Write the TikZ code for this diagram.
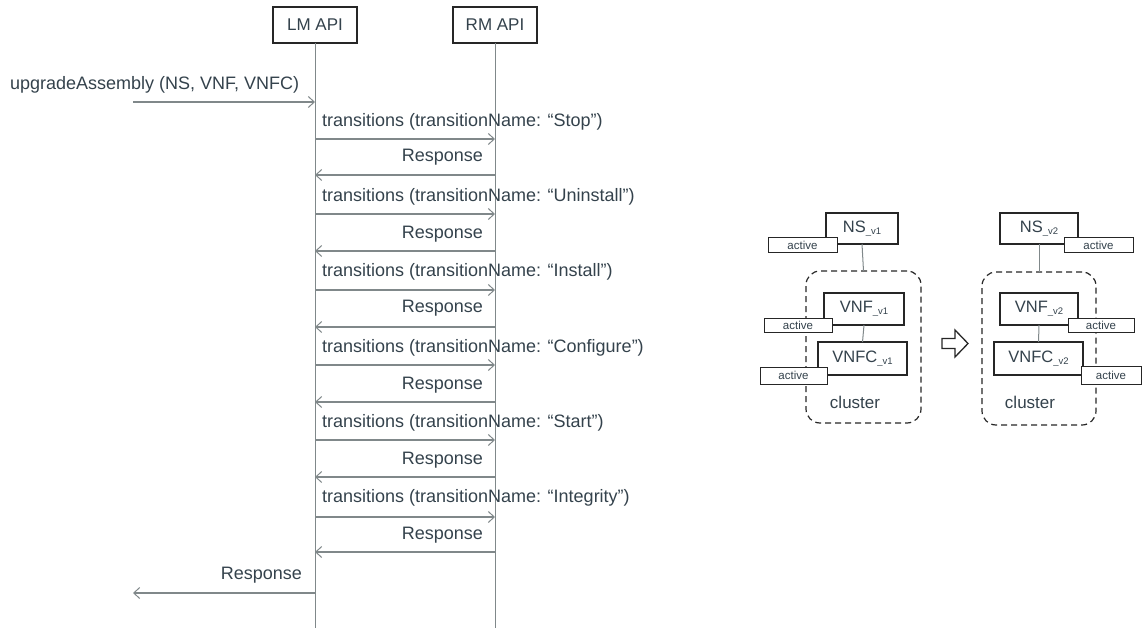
\documentclass[tikz,border=0pt]{standalone}
\usepackage{fontspec}
\setmainfont{Liberation Sans}
\usetikzlibrary{arrows.meta}
\definecolor{ink}{RGB}{52,66,76}
\definecolor{wire}{RGB}{128,136,138}
\definecolor{frame}{RGB}{38,38,38}
% small version suffix such as _v1
\newcommand\vsub[1]{\raisebox{-1.5pt}{\fontsize{9.5}{9.5}\selectfont\_#1}}

\begin{document}
\begin{tikzpicture}[x=1pt,y=-1pt,
  every node/.style={inner sep=0pt,outer sep=0pt,text=ink},
  headbox/.style={draw=frame,line width=1.4pt,fill=white,minimum width=84pt,minimum height=36pt,font=\fontsize{17}{20}\selectfont},
  lifeline/.style={draw=wire,line width=0.9pt},
  msg/.style={draw=wire,line width=1.1pt,-{Straight Barb[length=6pt,width=11pt,line width=1pt]}},
  lbl/.style={font=\fontsize{18}{20}\selectfont},
  compbox/.style={draw=frame,line width=1.4pt,fill=white,font=\fontsize{16.5}{18}\selectfont},
  tagbox/.style={draw=frame,line width=1pt,fill=white,font=\fontsize{11.5}{12}\selectfont},
  clusterbox/.style={draw=frame,dashed,dash pattern=on 6pt off 4pt,line width=1.2pt,rounded corners=14pt},
  link/.style={draw=wire,line width=1pt}
]
\useasboundingbox (0,0) rectangle (1142,628);

% ---------------- sequence chart ----------------
\node[headbox] (lm) at (315,25) {LM API};
\node[headbox] (rm) at (495,25) {RM API};
\coordinate (lmend) at (315,628);
\coordinate (rmend) at (495,628);
\draw[lifeline] (lm.south) -- (lmend);
\draw[lifeline] (rm.south) -- (rmend);

% incoming call
\coordinate (caller) at (133,102);
\coordinate (lm0) at (315,102);
\draw[msg] (caller) -- (lm0);
\node[lbl,anchor=west] (call) at (10,85) {upgradeAssembly (NS, VNF, VNFC)};

% transition requests
\foreach \ty/\ay/\tn [count=\i] in
  {122/139/Stop, 197/214/Uninstall, 272/290/Install,
   348/365/Configure, 423/440/Start, 498/517/Integrity}{
  \coordinate (lmq\i) at (315,\ay);
  \coordinate (rmq\i) at (495,\ay);
  \draw[msg] (lmq\i) -- (rmq\i);
  \node[lbl,anchor=west] (req\i) at (322,\ty) {transitions (transitionName: ``\tn'')};
}
% and their responses
\foreach \ry/\ay [count=\i] in
  {157/175, 234/251, 308/327, 385/402, 460/477, 535/552}{
  \coordinate (rma\i) at (495,\ay);
  \coordinate (lma\i) at (315,\ay);
  \draw[msg] (rma\i) -- (lma\i);
  \node[lbl,anchor=east] (ans\i) at (483,\ry) {Response};
}

% final reply
\coordinate (lmz) at (315,593);
\coordinate (replyend) at (133,593);
\draw[msg] (lmz) -- (replyend);
\node[lbl,anchor=east] (reply) at (302,575) {Response};

% ---------------- assembly before the upgrade ----------------
\node[clusterbox,minimum width=115pt,minimum height=152pt] (cl1) at (863.5,347) {};
\node[lbl,font=\fontsize{17}{20}\selectfont] (cl1t) at (855,402) {cluster};
\node[compbox,minimum width=72pt,minimum height=31pt] (ns1) at (862,228.5) {NS\vsub{v1}};
\node[compbox,minimum width=80pt,minimum height=32pt] (vnf1) at (864,309) {VNF\vsub{v1}};
\node[compbox,minimum width=89pt,minimum height=33pt] (vnfc1) at (862.5,358.5) {VNFC\vsub{v1}};
\draw[link] (ns1.south) -- (cl1.north);
\draw[link] (vnf1.south) -- (vnfc1.north);
\node[tagbox,minimum width=69pt,minimum height=14pt] (a1) at (802.5,245) {active};
\node[tagbox,minimum width=68pt,minimum height=14pt] (a2) at (798,325) {active};
\node[tagbox,minimum width=67pt,minimum height=17pt] (a3) at (793.5,375.5) {active};

% hollow upgrade arrow
\draw[draw=frame,fill=white,line width=1.3pt,line join=miter]
  (942,338.5) -- (955,338.5) -- (955,330) -- (968,343.5) -- (955,357)
  -- (955,348.5) -- (942,348.5) -- cycle;

% ---------------- assembly after the upgrade ----------------
\node[clusterbox,minimum width=114pt,minimum height=153pt] (cl2) at (1039,348.5) {};
\node[lbl,font=\fontsize{17}{20}\selectfont] (cl2t) at (1030,402) {cluster};
\node[compbox,minimum width=78pt,minimum height=31pt] (ns2) at (1039,228.5) {NS\vsub{v2}};
\node[compbox,minimum width=78pt,minimum height=32pt] (vnf2) at (1039,309) {VNF\vsub{v2}};
\node[compbox,minimum width=89pt,minimum height=33pt] (vnfc2) at (1038.5,358.5) {VNFC\vsub{v2}};
\draw[link] (ns2.south) -- (cl2.north);
\draw[link] (vnf2.south) -- (vnfc2.north);
\node[tagbox,minimum width=69pt,minimum height=14pt] (b1) at (1098.5,245) {active};
\node[tagbox,minimum width=66pt,minimum height=14pt] (b2) at (1101,325) {active};
\node[tagbox,minimum width=60pt,minimum height=18pt] (b3) at (1111,375) {active};
\end{tikzpicture}
\end{document}
